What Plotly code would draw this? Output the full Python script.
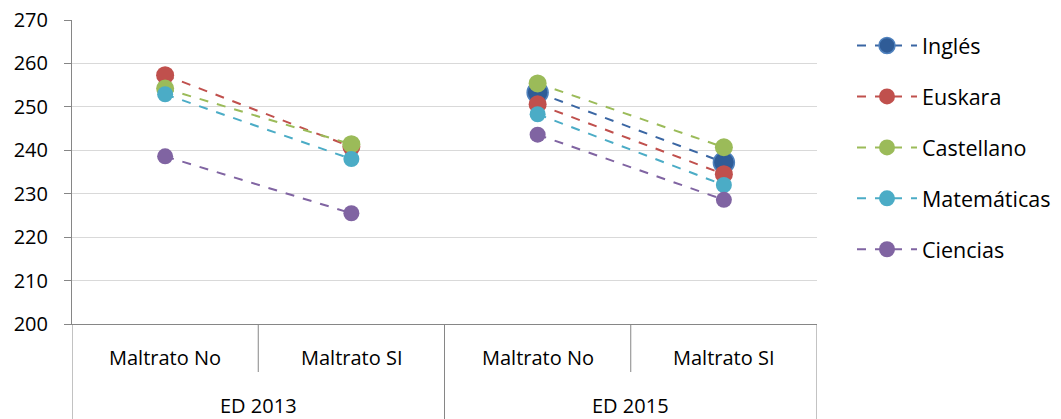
import plotly.graph_objects as go

# ---- data ----
years = ["ED 2013", "ED 2015"]
groups = ["Maltrato No", "Maltrato SI"]
subjects = ["Inglés", "Euskara", "Castellano", "Matemáticas", "Ciencias"]

ingles      = [None, None, 253.3, 237.2]
euskara     = [257.3, 240.8, 250.6, 234.5]
castellano  = [254.2, 241.4, 255.4, 240.7]
matematicas = [252.9, 238.0, 248.3, 232.0]
ciencias    = [238.6, 225.5, 243.6, 228.6]

y_ticks = [200, 210, 220, 230, 240, 250, 260, 270]

series = [ingles, euskara, castellano, matematicas, ciencias]
colors = ["#2F5C97", "#C0504D", "#9BBB59", "#4BACC6", "#8064A2"]
line_colors = ["#3A66A3", "#C0504D", "#9BBB59", "#4BACC6", "#8064A2"]
sizes = [21, 18, 18, 16, 16]

FONT = "Open Sans"
FS = 20

n_inner = len(groups)
n_cat = len(years) * n_inner

fig = go.Figure()
for name, vals, col, lcol, sz in zip(subjects, series, colors, line_colors, sizes):
    xs, ys = [], []
    for gi in range(len(years)):
        for ii in range(n_inner):
            k = gi * n_inner + ii
            xs.append(k)
            ys.append(vals[k])
        if gi < len(years) - 1:
            xs.append(None)
            ys.append(None)
    fig.add_trace(go.Scatter(
        x=xs, y=ys, name=name, mode="lines+markers",
        line=dict(color=lcol, width=2, dash="dash"),
        marker=dict(size=sz, color=col,
                    line=dict(color="#4F81BD" if name == "Inglés" else col,
                              width=1.5 if name == "Inglés" else 0)),
        legendgroup=name, connectgaps=False,
    ))

W, H = 1061, 419
ML, MT, MR, MB = 72, 20, 244, 95
plot_h = H - MT - MB
plot_w = W - ML - MR

axis_col = "#868686"
fig.update_layout(
    width=W, height=H,
    margin=dict(l=ML, r=MR, t=MT, b=MB, autoexpand=False),
    paper_bgcolor="white", plot_bgcolor="white",
    font=dict(family=FONT, size=FS, color="#000000"),
    showlegend=True,
    legend=dict(x=1.0 + 35 / plot_w, xanchor="left", y=1.0 - 5 / plot_h, yanchor="top",
                tracegroupgap=20, font=dict(family=FONT, size=21.5),
                itemwidth=60, bgcolor="rgba(0,0,0,0)"),
    xaxis=dict(range=[-0.5, n_cat - 0.5], showgrid=False, zeroline=False,
               showline=True, linecolor=axis_col, linewidth=1,
               showticklabels=False, ticks="", automargin=False),
    yaxis=dict(range=[y_ticks[0], y_ticks[-1]], tickvals=y_ticks,
               showgrid=True, gridcolor="#D9D9D9", gridwidth=1,
               zeroline=False, showline=True, linecolor=axis_col, linewidth=1,
               ticks="outside", ticklen=7, tickcolor=axis_col,
               ticklabelstandoff=12, automargin=False,
               ticklabeloverflow="allow",
               tickfont=dict(family=FONT, size=FS, color="#000000")),
)

# category labels and dividers
for gi, yr in enumerate(years):
    for ii, g in enumerate(groups):
        k = gi * n_inner + ii
        fig.add_annotation(x=k, y=0, xref="x", yref="paper", text=g,
                           showarrow=False, yanchor="middle", yshift=-33,
                           font=dict(family=FONT, size=FS, color="#000000"))
    center = gi * n_inner + (n_inner - 1) / 2
    fig.add_annotation(x=center, y=0, xref="x", yref="paper", text=yr,
                       showarrow=False, yanchor="middle", yshift=-81,
                       font=dict(family=FONT, size=FS, color="#000000"))

for k in range(n_cat + 1):
    xb = k - 0.5
    outer = (k % n_inner == 0)
    depth = MB if outer else 48
    fig.add_shape(type="line", xref="x", yref="paper",
                  x0=xb, x1=xb, y0=0, y1=-depth / plot_h,
                  line=dict(color=axis_col, width=1))

# remove the browser's default 8px body margin so the figure fills the window
fig.write_html("out.html",
               config={"displayModeBar": False},
               post_script="document.body.style.margin='0';document.body.style.overflow='hidden';")
